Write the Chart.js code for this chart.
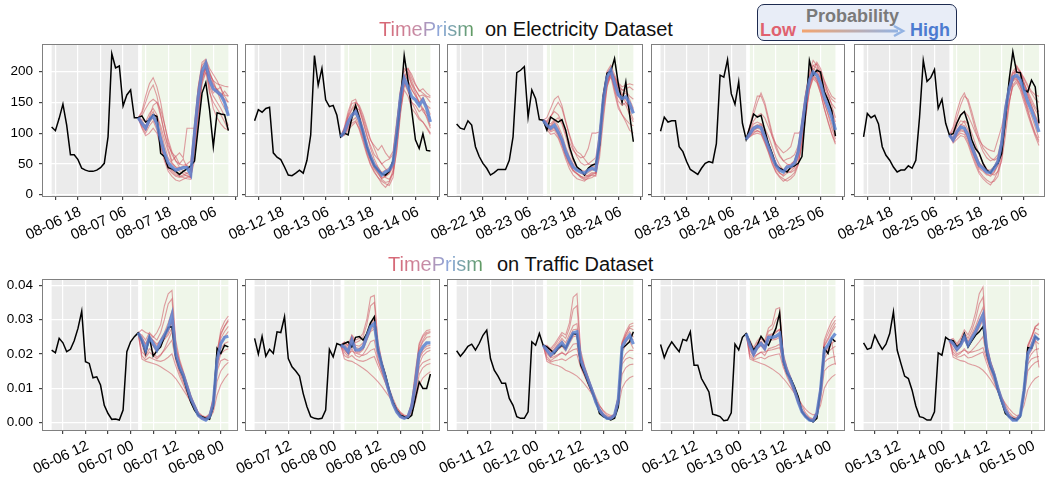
<!DOCTYPE html>
<html>
<head>
<meta charset="utf-8">
<script src="https://cdn.jsdelivr.net/npm/chart.js@4.4.1/dist/chart.umd.min.js"></script>
<style>
  body { margin: 0; background: #fff; width: 1048px; height: 482px; position: relative; overflow: hidden;
         font-family: "Liberation Sans", Arial, sans-serif; }
  canvas { position: absolute; }
  .title { position: absolute; font-size: 20px; line-height: 20px; white-space: nowrap; color: #111; }
  .prism { background: linear-gradient(90deg, #d9636f 0%, #c98aa3 38%, #8ba8dc 64%, #5e9a5e 100%);
           -webkit-background-clip: text; background-clip: text; color: transparent; }
  .legend { position: absolute; left: 757px; top: 4px; width: 200px; height: 37px; box-sizing: border-box;
            border: 1.5px solid #1d2b50; border-radius: 7px; background: #e8edf7; }
  .legend span { position: absolute; font-weight: bold; font-size: 18px; line-height: 18px; white-space: nowrap; }
</style>
</head>
<body>
<div class="title prism" style="left:379px;top:19px">TimePrism</div>
<div class="title" style="left:485px;top:19px">on Electricity Dataset</div>
<div class="title prism" style="left:388px;top:254px">TimePrism</div>
<div class="title" style="left:497px;top:254px">on Traffic Dataset</div>

<div class="legend">
  <span style="left:48px;top:2px;color:#7a7a7a">Probability</span>
  <span style="left:2px;top:16px;color:#e0616f">Low</span>
  <span style="left:152px;top:16px;color:#4c7bd0">High</span>
  <svg style="position:absolute;left:43px;top:19px" width="108" height="14">
    <defs><linearGradient id="ag" x1="0" x2="1"><stop offset="0" stop-color="#f3a46f"/><stop offset="1" stop-color="#93b3e3"/></linearGradient></defs>
    <rect x="1" y="5.5" width="96" height="3" fill="url(#ag)"/>
    <polyline points="93,2 102,7 93,12" fill="none" stroke="#93b3e3" stroke-width="2.5"/>
  </svg>
</div>

<script>
/* data: electricity */
const elecTickLabels = [
  ['08-06 18', '08-07 06', '08-07 18', '08-08 06'],
  ['08-12 18', '08-13 06', '08-13 18', '08-14 06'],
  ['08-22 18', '08-23 06', '08-23 18', '08-24 06'],
  ['08-23 18', '08-24 06', '08-24 18', '08-25 06'],
  ['08-24 18', '08-25 06', '08-25 18', '08-26 06']
];
const elecFirstTick = 1;
const elecYTicks = [0, 50, 100, 150, 200];

const elecHistory = [
  [110,104,124,147,113,65,65,57,43,40,38,38,40,44,51,94,229,206,209,144,162,170,125,125],
  [120,138,134,140,142,68,61,57,45,32,31,35,40,35,56,97,226,178,205,154,143,145,129,94],
  [115,108,106,120,113,78,62,51,43,32,36,41,41,41,56,94,198,202,208,126,170,156,122,121],
  [103,126,118,120,120,78,70,54,41,37,33,43,51,54,52,83,194,191,219,164,147,183,116,90],
  [94,132,125,129,115,78,64,56,45,37,40,40,47,43,56,126,218,184,190,203,140,155,116,97]
];
const elecTruth = [
  [128,118,121,130,127,67,62,44,42,38,33,38,42,47,55,110,165,182,138,78,133,131,130,104],
  [100,97,125,145,125,100,78,60,47,40,34,32,38,55,95,150,226,186,137,89,75,99,72,71],
  [105,126,122,118,122,105,78,59,45,40,32,43,48,50,80,160,197,200,221,180,150,183,130,86],
  [110,131,126,129,105,83,67,48,43,40,37,45,47,51,62,135,218,194,202,199,167,154,137,95],
  [99,116,129,135,116,89,75,67,51,40,35,45,51,67,121,186,232,199,198,170,167,186,175,116]
];
const elecMean = [
  [125,116,108,122,128,115,90,68,52,45,40,42,44,44,33,100,160,200,213,186,172,167,162,150,128],
  [94,102,118,129,135,121,102,78,62,48,40,32,37,40,51,99,159,189,175,159,154,145,154,140,118],
  [121,113,108,113,102,89,70,56,45,40,37,35,40,43,40,89,154,191,202,181,162,156,159,148,132],
  [90,99,108,111,109,94,78,62,48,40,37,45,46,51,70,110,154,186,199,194,181,159,143,126,105],
  [97,89,102,110,108,97,78,62,48,43,37,36,43,54,83,137,172,191,194,186,170,151,137,121,102]
];
const elecSamples = [
  [
    [125,135,160,180,190,175,150,115,85,65,55,50,48,50,55,110,170,205,215,195,185,180,178,176,175],
    [125,122,118,132,140,130,105,80,60,50,45,44,46,48,40,115,175,210,218,200,180,170,165,160,150],
    [125,110,100,112,120,105,80,58,42,35,30,28,30,32,28,85,150,190,205,175,160,150,140,128,112],
    [125,108,96,100,108,100,78,55,38,30,24,22,25,28,30,75,140,185,200,165,150,140,130,118,105],
    [125,128,140,150,155,150,128,100,80,68,62,68,60,108,108,108,150,190,205,190,172,165,160,155,150],
    [125,118,112,126,145,150,138,115,90,70,55,45,38,35,30,55,120,185,212,198,185,168,152,140,130],
    [125,120,110,125,135,120,96,72,50,40,35,30,32,35,38,110,175,215,220,205,195,185,172,162,160],
    [125,112,104,118,125,110,85,62,45,38,32,30,28,26,25,80,145,195,208,170,140,125,115,108,105],
    [125,132,150,168,178,160,130,100,75,55,62,50,58,45,40,95,160,200,205,180,165,172,160,168,160],
    [125,115,105,118,130,128,112,90,70,52,45,38,34,30,28,70,130,180,198,192,178,170,175,150,140]
  ],
  [
    [94,110,135,152,155,140,118,95,80,65,58,50,55,58,65,115,170,200,205,190,178,170,165,160,158],
    [94,105,125,138,145,130,108,85,66,52,44,36,40,44,55,110,168,195,185,170,162,150,158,145,130],
    [94,98,110,120,125,112,92,70,55,42,34,26,30,34,45,88,148,180,168,150,145,135,140,125,108],
    [94,96,105,112,118,108,90,68,50,38,28,18,12,20,35,80,135,170,160,140,132,122,118,110,100],
    [94,108,128,140,150,142,125,105,88,80,72,80,68,60,70,120,165,190,200,185,170,160,150,145,140],
    [94,100,112,125,140,138,120,98,75,58,45,35,28,25,35,70,130,182,195,178,165,150,140,132,125],
    [94,104,120,132,138,124,104,80,60,46,38,28,30,36,48,105,170,205,198,180,170,160,162,158,150],
    [94,100,115,126,132,118,98,74,58,44,36,25,20,22,40,95,150,185,170,150,138,125,118,108,98],
    [94,106,130,148,150,145,130,110,90,75,60,50,42,36,50,90,150,190,205,195,180,168,172,165,160],
    [94,99,108,116,120,105,85,65,48,36,28,22,18,15,28,75,140,175,185,172,160,150,135,128,112]
  ],
  [
    [121,125,140,155,160,145,120,95,75,62,52,48,50,55,60,100,160,195,205,190,175,170,172,175,170],
    [121,118,115,122,112,98,78,62,50,45,40,38,42,46,45,98,165,198,206,188,170,162,165,155,140],
    [121,110,102,105,95,80,62,48,38,34,30,28,32,36,35,80,145,185,198,172,152,145,150,138,122],
    [121,106,98,100,92,76,58,42,32,26,24,22,28,32,30,70,130,175,192,165,140,130,122,115,112],
    [121,120,128,135,130,118,100,85,72,65,60,62,75,100,100,102,150,185,195,185,170,160,150,142,135],
    [121,115,112,120,125,115,95,72,55,45,38,32,30,32,35,60,120,175,200,192,175,165,155,145,138],
    [121,116,110,118,108,92,72,58,46,40,35,32,36,40,42,95,165,200,210,195,180,170,168,160,155],
    [121,112,106,110,100,86,66,52,40,35,30,26,30,34,36,85,150,188,198,170,145,130,118,105,100],
    [121,118,125,140,150,140,118,98,80,70,66,58,50,48,52,85,140,180,198,190,182,175,178,180,178],
    [121,109,104,108,98,84,64,50,40,34,28,24,26,28,32,75,140,180,192,178,160,150,145,130,118]
  ],
  [
    [90,110,130,150,165,150,125,100,80,65,55,58,60,65,80,120,165,195,210,205,195,180,165,155,150],
    [90,102,115,118,115,100,84,68,52,44,40,48,50,55,75,118,162,192,205,200,188,168,152,138,118],
    [90,96,102,104,102,88,72,56,42,35,32,40,42,46,62,100,145,178,192,188,172,150,132,115,95],
    [90,94,98,100,98,84,68,50,36,28,22,26,30,36,50,85,130,170,188,182,165,140,120,100,85],
    [90,105,120,128,132,125,110,95,82,75,68,72,78,100,100,105,150,180,195,200,190,175,160,148,140],
    [90,98,105,110,115,108,95,78,60,48,40,38,36,40,50,80,125,170,200,215,205,185,165,145,125],
    [90,100,110,114,112,96,80,64,50,42,38,44,46,52,72,115,165,200,218,210,192,170,152,135,112],
    [90,97,104,108,106,90,74,58,44,36,30,35,38,44,60,100,145,182,198,185,165,140,118,98,82],
    [90,112,138,160,160,145,120,95,75,62,55,50,48,55,75,115,155,190,210,212,200,185,172,160,155],
    [90,95,100,104,100,86,70,52,38,30,26,22,26,32,48,88,135,172,190,185,170,150,130,108,90]
  ],
  [
    [97,110,135,155,165,150,128,105,85,70,60,55,58,65,90,140,175,195,205,200,190,178,168,162,160],
    [97,95,110,120,118,105,85,68,52,46,40,40,46,58,90,145,180,198,200,192,178,160,145,130,112],
    [97,86,96,104,102,90,72,56,42,38,32,32,38,48,75,128,165,185,188,178,162,142,128,110,92],
    [97,84,90,96,94,82,64,48,34,26,20,16,25,38,65,115,152,175,182,170,150,130,112,95,80],
    [97,100,118,130,135,128,115,100,88,80,75,72,70,90,110,140,170,185,192,190,180,168,155,142,135],
    [97,92,100,112,120,115,100,82,65,52,42,35,32,38,55,95,145,185,210,200,182,162,145,128,115],
    [97,90,104,114,112,100,80,64,50,44,38,36,44,56,88,145,182,200,208,198,182,165,150,138,128],
    [97,88,100,106,104,92,74,58,44,40,34,30,36,48,78,130,165,188,190,178,158,138,118,100,88],
    [97,104,125,145,160,155,135,112,92,76,68,60,56,60,80,125,165,190,200,198,188,175,165,155,150],
    [97,87,95,100,98,86,68,52,38,30,24,20,22,30,58,108,150,178,186,175,155,135,115,98,85]
  ]
];

/* data: traffic */
const trafficTickLabels = [
  ['06-06 12', '06-07 00', '06-07 12', '06-08 00'],
  ['06-07 12', '06-08 00', '06-08 12', '06-09 00'],
  ['06-11 12', '06-12 00', '06-12 12', '06-13 00'],
  ['06-12 12', '06-13 00', '06-13 12', '06-14 00'],
  ['06-13 12', '06-14 00', '06-14 12', '06-15 00']
];
const trafficFirstTick = 3;
const trafficYTicks = [0, 0.01, 0.02, 0.03, 0.04];

const trafficHistory = [
  [.0211,.0203,.0245,.0232,.0206,.0213,.0238,.0274,.0324,.0177,.0172,.0130,.0133,.0109,.0050,.0026,.0009,.0010,.0007,.0036,.0206,.0235,.0250,.0261],
  [.0245,.0199,.0251,.0193,.0213,.0201,.0264,.0262,.0308,.0186,.0162,.0150,.0135,.0084,.0046,.0017,.0012,.0010,.0012,.0036,.0213,.0191,.0230,.0225],
  [.0209,.0193,.0206,.0222,.0228,.0211,.0230,.0254,.0269,.0186,.0152,.0135,.0114,.0114,.0070,.0050,.0017,.0012,.0012,.0031,.0235,.0225,.0259,.0225],
  [.0227,.0189,.0216,.0235,.0220,.0206,.0242,.0238,.0264,.0167,.0167,.0128,.0109,.0089,.0024,.0021,.0017,.0005,.0007,.0028,.0228,.0211,.0248,.0259],
  [.0232,.0213,.0217,.0254,.0232,.0213,.0228,.0259,.0322,.0211,.0172,.0135,.0128,.0094,.0048,.0017,.0014,.0007,.0007,.0031,.0203,.0196,.0248,.0240]
];
const trafficTruth = [
  [.0238,.0201,.0248,.0193,.0209,.0220,.0250,.0277,.0279,.0191,.0157,.0133,.0094,.0060,.0036,.0021,.0017,.0012,.0009,.0046,.0216,.0201,.0225,.0220],
  [.0230,.0235,.0220,.0248,.0250,.0240,.0259,.0290,.0308,.0211,.0172,.0138,.0094,.0060,.0036,.0021,.0017,.0012,.0021,.0070,.0118,.0099,.0099,.0141],
  [.0220,.0211,.0201,.0216,.0225,.0216,.0238,.0259,.0257,.0167,.0143,.0114,.0089,.0065,.0026,.0017,.0012,.0007,.0012,.0046,.0216,.0225,.0235,.0264],
  [.0235,.0211,.0225,.0251,.0235,.0225,.0250,.0274,.0319,.0177,.0143,.0128,.0104,.0075,.0031,.0017,.0007,.0002,.0012,.0094,.0216,.0201,.0245,.0235],
  [.0238,.0220,.0230,.0259,.0220,.0238,.0254,.0264,.0279,.0201,.0162,.0138,.0094,.0060,.0026,.0017,.0012,.0007,.0017,.0094,.0218,.0216,.0250,.0242]
];
const trafficMean = [
  [.0261,.0240,.0211,.0248,.0230,.0211,.0235,.0254,.0274,.0313,.0201,.0162,.0138,.0104,.0070,.0046,.0021,.0012,.0007,.0017,.0055,.0182,.0230,.0248,.0251],
  [.0225,.0220,.0206,.0240,.0211,.0211,.0220,.0250,.0279,.0288,.0211,.0167,.0128,.0089,.0055,.0031,.0017,.0012,.0017,.0046,.0114,.0201,.0220,.0232,.0232],
  [.0225,.0211,.0196,.0206,.0220,.0232,.0216,.0240,.0261,.0264,.0182,.0152,.0123,.0094,.0060,.0036,.0021,.0012,.0012,.0021,.0065,.0220,.0240,.0254,.0228],
  [.0259,.0225,.0199,.0220,.0230,.0216,.0248,.0248,.0251,.0259,.0182,.0148,.0123,.0094,.0060,.0031,.0017,.0007,.0005,.0026,.0094,.0211,.0225,.0245,.0259],
  [.0240,.0230,.0213,.0225,.0249,.0225,.0245,.0264,.0288,.0313,.0211,.0167,.0138,.0099,.0065,.0036,.0017,.0007,.0007,.0021,.0094,.0201,.0220,.0250,.0240]
];
const trafficSamples = [
  [
    [.0261,.0270,.0262,.0258,.0248,.0262,.0285,.0340,.0375,.0385,.0240,.0185,.0150,.0115,.0080,.0052,.0028,.0018,.0015,.0022,.0070,.0200,.0270,.0295,.0310],
    [.0261,.0250,.0225,.0252,.0238,.0222,.0242,.0262,.0290,.0325,.0210,.0170,.0142,.0108,.0072,.0048,.0022,.0014,.0010,.0020,.0060,.0190,.0245,.0265,.0280],
    [.0261,.0232,.0205,.0240,.0222,.0205,.0225,.0245,.0262,.0300,.0195,.0155,.0130,.0098,.0065,.0040,.0018,.0010,.0006,.0014,.0050,.0170,.0215,.0230,.0235],
    [.0261,.0185,.0178,.0175,.0172,.0168,.0162,.0155,.0148,.0140,.0128,.0112,.0095,.0078,.0060,.0042,.0025,.0015,.0010,.0012,.0030,.0080,.0110,.0128,.0142],
    [.0261,.0205,.0195,.0215,.0205,.0190,.0198,.0210,.0225,.0240,.0180,.0145,.0118,.0090,.0060,.0038,.0018,.0012,.0010,.0016,.0045,.0150,.0180,.0185,.0180],
    [.0261,.0245,.0230,.0250,.0240,.0228,.0240,.0255,.0268,.0290,.0215,.0175,.0145,.0112,.0078,.0052,.0030,.0020,.0016,.0025,.0075,.0210,.0260,.0280,.0295],
    [.0261,.0238,.0215,.0235,.0225,.0212,.0228,.0242,.0255,.0275,.0192,.0158,.0132,.0100,.0068,.0042,.0020,.0012,.0008,.0015,.0048,.0160,.0200,.0210,.0215],
    [.0261,.0228,.0190,.0205,.0195,.0185,.0195,.0215,.0240,.0265,.0185,.0150,.0125,.0095,.0062,.0040,.0020,.0013,.0012,.0020,.0055,.0170,.0225,.0250,.0265],
    [.0261,.0255,.0240,.0262,.0250,.0240,.0262,.0300,.0345,.0360,.0225,.0178,.0145,.0110,.0075,.0050,.0025,.0016,.0012,.0020,.0065,.0195,.0255,.0280,.0300],
    [.0261,.0195,.0182,.0190,.0185,.0180,.0178,.0182,.0190,.0200,.0165,.0135,.0110,.0085,.0058,.0036,.0020,.0014,.0012,.0018,.0040,.0120,.0150,.0165,.0175]
  ],
  [
    [.0225,.0235,.0225,.0255,.0240,.0245,.0260,.0300,.0365,.0370,.0235,.0180,.0140,.0098,.0062,.0036,.0020,.0016,.0022,.0060,.0150,.0230,.0255,.0268,.0270],
    [.0225,.0222,.0210,.0242,.0218,.0215,.0225,.0255,.0285,.0295,.0215,.0170,.0132,.0092,.0058,.0033,.0018,.0014,.0019,.0050,.0125,.0210,.0235,.0248,.0250],
    [.0225,.0215,.0198,.0230,.0205,.0202,.0212,.0240,.0265,.0272,.0200,.0160,.0122,.0085,.0052,.0030,.0016,.0012,.0015,.0040,.0100,.0185,.0205,.0215,.0218],
    [.0225,.0185,.0180,.0178,.0172,.0165,.0158,.0150,.0140,.0130,.0118,.0105,.0090,.0075,.0058,.0042,.0030,.0022,.0018,.0025,.0060,.0110,.0130,.0140,.0148],
    [.0225,.0205,.0192,.0215,.0195,.0190,.0198,.0215,.0235,.0240,.0185,.0148,.0115,.0080,.0050,.0028,.0015,.0012,.0018,.0045,.0105,.0160,.0175,.0180,.0185],
    [.0225,.0210,.0200,.0208,.0202,.0198,.0195,.0200,.0210,.0215,.0178,.0150,.0125,.0098,.0070,.0045,.0028,.0018,.0016,.0035,.0090,.0170,.0195,.0205,.0210],
    [.0225,.0228,.0215,.0248,.0225,.0222,.0232,.0262,.0292,.0300,.0218,.0172,.0132,.0092,.0058,.0032,.0018,.0014,.0020,.0055,.0130,.0215,.0240,.0258,.0262],
    [.0225,.0218,.0202,.0232,.0208,.0206,.0215,.0242,.0270,.0280,.0205,.0162,.0125,.0088,.0055,.0031,.0017,.0012,.0016,.0042,.0108,.0190,.0212,.0222,.0225],
    [.0225,.0232,.0222,.0252,.0232,.0238,.0250,.0285,.0340,.0350,.0228,.0176,.0136,.0095,.0060,.0034,.0019,.0015,.0020,.0055,.0140,.0225,.0250,.0262,.0265],
    [.0225,.0195,.0188,.0195,.0185,.0180,.0178,.0182,.0188,.0192,.0165,.0140,.0115,.0088,.0062,.0040,.0026,.0018,.0018,.0032,.0080,.0140,.0160,.0168,.0172]
  ],
  [
    [.0225,.0225,.0215,.0228,.0245,.0262,.0255,.0290,.0365,.0375,.0210,.0165,.0132,.0100,.0066,.0040,.0024,.0015,.0015,.0025,.0080,.0235,.0265,.0285,.0290],
    [.0225,.0215,.0202,.0212,.0225,.0238,.0222,.0248,.0270,.0272,.0188,.0156,.0126,.0096,.0062,.0038,.0022,.0013,.0013,.0022,.0070,.0228,.0250,.0265,.0248],
    [.0225,.0205,.0190,.0200,.0212,.0222,.0208,.0230,.0250,.0252,.0175,.0146,.0118,.0090,.0058,.0034,.0020,.0011,.0011,.0019,.0058,.0205,.0225,.0238,.0215],
    [.0225,.0178,.0172,.0168,.0165,.0160,.0152,.0148,.0142,.0135,.0125,.0112,.0098,.0082,.0065,.0048,.0035,.0025,.0020,.0022,.0045,.0100,.0120,.0130,.0135],
    [.0225,.0192,.0180,.0188,.0195,.0205,.0195,.0212,.0228,.0230,.0165,.0138,.0112,.0085,.0055,.0032,.0018,.0012,.0012,.0020,.0052,.0170,.0185,.0190,.0185],
    [.0225,.0200,.0188,.0192,.0198,.0202,.0198,.0205,.0212,.0215,.0175,.0150,.0125,.0100,.0075,.0050,.0032,.0020,.0016,.0022,.0060,.0180,.0200,.0210,.0210],
    [.0225,.0218,.0205,.0215,.0230,.0245,.0232,.0258,.0282,.0288,.0195,.0160,.0130,.0098,.0064,.0040,.0023,.0014,.0014,.0024,.0075,.0230,.0255,.0275,.0270],
    [.0225,.0208,.0192,.0202,.0215,.0228,.0212,.0235,.0255,.0258,.0178,.0148,.0120,.0092,.0059,.0035,.0020,.0012,.0012,.0020,.0062,.0212,.0235,.0248,.0240],
    [.0225,.0222,.0210,.0222,.0238,.0255,.0245,.0275,.0330,.0340,.0200,.0160,.0128,.0098,.0064,.0039,.0023,.0014,.0014,.0024,.0078,.0232,.0258,.0278,.0282],
    [.0225,.0185,.0176,.0180,.0182,.0185,.0180,.0188,.0195,.0198,.0160,.0135,.0110,.0085,.0058,.0038,.0024,.0016,.0014,.0020,.0050,.0140,.0160,.0168,.0170]
  ],
  [
    [.0259,.0240,.0218,.0238,.0250,.0238,.0275,.0285,.0330,.0335,.0200,.0160,.0132,.0100,.0066,.0036,.0020,.0010,.0008,.0032,.0110,.0240,.0270,.0295,.0310],
    [.0259,.0230,.0205,.0226,.0236,.0222,.0255,.0258,.0265,.0272,.0188,.0152,.0126,.0096,.0062,.0033,.0018,.0008,.0006,.0028,.0100,.0222,.0240,.0262,.0280],
    [.0259,.0220,.0194,.0214,.0224,.0210,.0240,.0240,.0242,.0248,.0176,.0143,.0119,.0091,.0057,.0030,.0016,.0007,.0005,.0024,.0088,.0200,.0212,.0230,.0240],
    [.0259,.0185,.0180,.0176,.0172,.0168,.0162,.0156,.0148,.0140,.0128,.0115,.0100,.0085,.0068,.0052,.0038,.0028,.0022,.0025,.0050,.0100,.0120,.0132,.0140],
    [.0259,.0200,.0185,.0198,.0205,.0195,.0215,.0218,.0222,.0228,.0168,.0138,.0114,.0088,.0056,.0030,.0016,.0008,.0006,.0022,.0078,.0175,.0185,.0190,.0192],
    [.0259,.0210,.0192,.0198,.0205,.0205,.0210,.0212,.0215,.0218,.0180,.0152,.0128,.0102,.0075,.0048,.0028,.0015,.0010,.0025,.0080,.0185,.0205,.0215,.0222],
    [.0259,.0228,.0202,.0224,.0235,.0220,.0252,.0255,.0262,.0270,.0186,.0150,.0125,.0095,.0062,.0032,.0017,.0008,.0006,.0028,.0100,.0225,.0245,.0270,.0290],
    [.0259,.0222,.0196,.0216,.0226,.0213,.0244,.0244,.0246,.0254,.0179,.0146,.0121,.0092,.0059,.0031,.0017,.0007,.0005,.0025,.0090,.0205,.0218,.0235,.0168],
    [.0259,.0235,.0212,.0232,.0244,.0232,.0266,.0272,.0300,.0312,.0194,.0156,.0129,.0098,.0064,.0035,.0019,.0009,.0007,.0030,.0105,.0232,.0258,.0282,.0298],
    [.0259,.0192,.0182,.0186,.0190,.0185,.0192,.0195,.0198,.0200,.0160,.0132,.0110,.0086,.0060,.0038,.0022,.0012,.0008,.0022,.0065,.0150,.0162,.0168,.0172]
  ],
  [
    [.0240,.0245,.0230,.0245,.0270,.0255,.0280,.0320,.0375,.0395,.0230,.0180,.0148,.0106,.0070,.0040,.0020,.0010,.0010,.0026,.0105,.0225,.0250,.0280,.0285],
    [.0240,.0232,.0218,.0230,.0255,.0232,.0252,.0272,.0298,.0320,.0215,.0170,.0141,.0102,.0067,.0037,.0018,.0008,.0008,.0022,.0098,.0210,.0232,.0262,.0255],
    [.0240,.0225,.0208,.0220,.0242,.0218,.0238,.0255,.0276,.0298,.0205,.0162,.0134,.0096,.0062,.0034,.0016,.0007,.0006,.0020,.0088,.0192,.0210,.0238,.0228],
    [.0240,.0190,.0185,.0180,.0178,.0172,.0168,.0165,.0160,.0152,.0140,.0125,.0108,.0090,.0072,.0055,.0040,.0028,.0020,.0022,.0050,.0095,.0115,.0128,.0135],
    [.0240,.0205,.0195,.0202,.0215,.0200,.0210,.0222,.0235,.0250,.0190,.0152,.0125,.0090,.0058,.0032,.0016,.0008,.0008,.0020,.0080,.0170,.0185,.0190,.0192],
    [.0240,.0215,.0200,.0205,.0210,.0205,.0205,.0208,.0212,.0218,.0185,.0158,.0132,.0104,.0076,.0050,.0030,.0018,.0014,.0024,.0085,.0180,.0200,.0212,.0215],
    [.0240,.0235,.0220,.0232,.0258,.0235,.0258,.0280,.0310,.0335,.0220,.0174,.0144,.0104,.0068,.0038,.0018,.0008,.0008,.0024,.0102,.0218,.0245,.0275,.0270],
    [.0240,.0228,.0210,.0222,.0246,.0222,.0242,.0260,.0283,.0305,.0208,.0165,.0136,.0098,.0064,.0035,.0017,.0007,.0007,.0021,.0092,.0198,.0222,.0245,.0160],
    [.0240,.0240,.0225,.0238,.0262,.0245,.0268,.0300,.0345,.0365,.0225,.0177,.0146,.0105,.0069,.0039,.0019,.0009,.0009,.0025,.0100,.0222,.0248,.0278,.0290],
    [.0240,.0198,.0190,.0192,.0198,.0188,.0190,.0195,.0200,.0205,.0172,.0142,.0118,.0090,.0062,.0040,.0024,.0014,.0012,.0020,.0070,.0150,.0165,.0175,.0180]
  ]
];

/* layout */
const FONT = '"Liberation Sans", Arial, sans-serif';
Chart.defaults.font.family = FONT;
Chart.defaults.font.size = 13.5;
Chart.defaults.color = '#000';

const AXIS_W = 45, AXIS_H = 62, PAD = 6;
const colLeft = [43, 246, 448, 652, 855];
const colWidth = [194, 193, 194, 192, 189];
const colXMax = [49.3, 49.3, 49.3, 49.3, 48.35];
const xMin = -2.3;
const rowTop = [45, 280];
const rowHeight = [151, 150];

const RED = 'rgba(205, 80, 95, 0.55)';
const BLUE = 'rgba(92, 130, 208, 0.85)';

// gray / green bands behind the grid, spine box on top
const shadePlugin = {
  id: 'shade',
  beforeDraw(chart, args, opts) {
    const { ctx, chartArea: a, scales: { x } } = chart;
    ctx.save();
    ctx.fillStyle = '#ebebeb';
    let x0 = x.getPixelForValue(0), x1 = x.getPixelForValue(opts.histLen - 1);
    ctx.fillRect(x0, a.top, x1 - x0, a.bottom - a.top);
    ctx.fillStyle = '#eff6e9';
    x0 = x.getPixelForValue(opts.histLen);
    x1 = x.getPixelForValue(opts.histLen + opts.predLen - 1);
    ctx.fillRect(x0, a.top, x1 - x0, a.bottom - a.top);
    ctx.restore();
  },
  afterDatasetsDraw(chart) {
    const { ctx, chartArea: a } = chart;
    ctx.save();
    ctx.strokeStyle = '#808080';
    ctx.lineWidth = 1;
    ctx.strokeRect(a.left - 0.5, a.top - 0.5, a.right - a.left + 1, a.bottom - a.top + 1);
    ctx.restore();
  }
};

function drawPanel(row, col, hist, truth, mean, samples, tickLabels, firstTick, yMin, yMax, yTicks, yFmt) {
  const canvas = document.createElement('canvas');
  canvas.width = AXIS_W + colWidth[col] + PAD;
  canvas.height = PAD + rowHeight[row] + AXIS_H;
  canvas.style.left = (colLeft[col] - AXIS_W) + 'px';
  canvas.style.top = (rowTop[row] - PAD) + 'px';
  document.body.appendChild(canvas);

  const start = hist.length - 1;
  const xMax = colXMax[col];
  const gridHours = [];
  for (let v = firstTick; v <= xMax; v += 6) gridHours.push(v);

  const pts = (arr, s) => arr.map((v, i) => ({ x: s + i, y: v }));
  const line = (data, color, width) => ({ data, borderColor: color, borderWidth: width, pointRadius: 0, tension: 0, fill: false });

  const datasets = [
    line(pts(mean, start), BLUE, 3.2),
    line(pts(hist.concat(truth), 0), '#000', 1.5),
    ...samples.map(s => line(pts(s, start), RED, 1.1))
  ];

  new Chart(canvas, {
    type: 'line',
    data: { datasets },
    options: {
      responsive: false,
      animation: false,
      layout: { padding: { left: 0, top: PAD, right: PAD, bottom: 0 } },
      plugins: {
        legend: { display: false },
        tooltip: { enabled: false },
        shade: { histLen: hist.length, predLen: truth.length }
      },
      scales: {
        x: {
          type: 'linear',
          min: xMin,
          max: xMax,
          afterBuildTicks: s => { s.ticks = gridHours.map(v => ({ value: v })); },
          afterFit: s => { s.height = AXIS_H; s.paddingLeft = 0; s.paddingRight = 0; },
          border: { display: false },
          grid: { color: '#fff', lineWidth: 1.2, tickColor: '#444', tickLength: 4 },
          ticks: {
            autoSkip: false,
            minRotation: 25,
            maxRotation: 25,
            labelOffset: 25,
            padding: 3,
            font: { size: 15 },
            callback: v => {
              const k = (v - firstTick) / 12;
              return Number.isInteger(k) && k < tickLabels.length ? tickLabels[k] : '';
            }
          }
        },
        y: {
          min: yMin,
          max: yMax,
          afterBuildTicks: s => { s.ticks = yTicks.map(v => ({ value: v })); },
          afterFit: s => { s.width = AXIS_W; s.paddingTop = 0; s.paddingBottom = 0; },
          border: { display: false },
          grid: { color: '#fff', lineWidth: 1.2, tickColor: '#444', tickLength: 4 },
          ticks: { display: col === 0, padding: 6, callback: yFmt }
        }
      }
    },
    plugins: [shadePlugin]
  });
}

for (let c = 0; c < 5; c++) {
  drawPanel(0, c, elecHistory[c], elecTruth[c], elecMean[c], elecSamples[c],
    elecTickLabels[c], elecFirstTick, -2, 243, elecYTicks, v => String(v));
  drawPanel(1, c, trafficHistory[c], trafficTruth[c], trafficMean[c], trafficSamples[c],
    trafficTickLabels[c], trafficFirstTick, -0.0022, 0.0415, trafficYTicks, v => v.toFixed(2));
}
</script>
</body>
</html>
